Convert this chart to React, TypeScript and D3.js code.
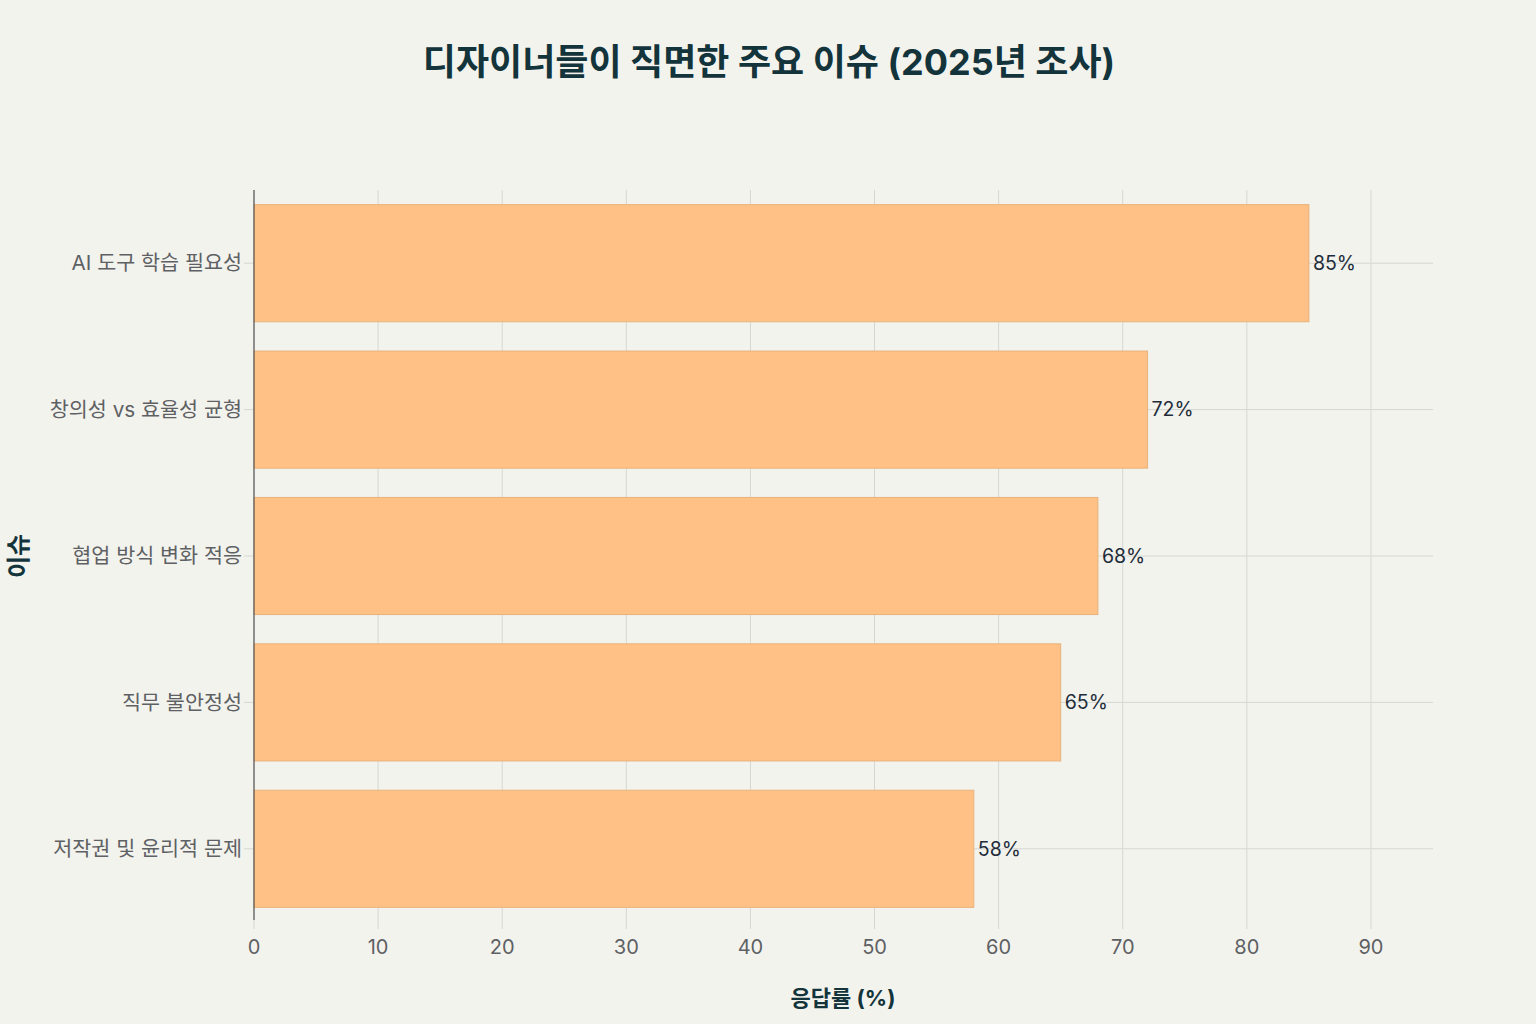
import * as d3 from "d3";
import React from 'react'

const categories = ['AI 도구 학습 필요성', '창의성 vs 효율성 균형', '협업 방식 변화 적응', '직무 불안정성', '저작권 및 윤리적 문제']
const values = [85, 72, 68, 65, 58]
const xTicks = [0, 10, 20, 30, 40, 50, 60, 70, 80, 90]

const W = 1536, H = 1024
const m = { l: 254, r: 103, t: 190, b: 102 }
const font = "Inter, 'Noto Sans CJK KR', 'Noto Sans', sans-serif"

const App: React.FC = () => {
  const x = d3.scaleLinear([0, 95], [m.l, W - m.r])
  const y = d3.scaleBand(categories, [m.t, H - m.b]).paddingInner(0.2).paddingOuter(0.1)
  const bottom = H - m.b

  return (
    <div>
      <style>{"body{margin:0;background:#f3f3ee}"}</style>
      <svg width={W} height={H} style={{ display: 'block', background: '#f3f3ee', fontFamily: font }}>
        <text x={769} y={75} textAnchor="middle" fontSize={36} fontWeight={700} fill="#13343b">디자이너들이 직면한 주요 이슈 (2025년 조사)</text>

        {xTicks.map(t => (
          <line key={'gx' + t} x1={x(t)} x2={x(t)} y1={m.t} y2={bottom + 7} stroke="#d6d6d2" strokeWidth={1} />
        ))}
        {categories.map(c => (
          <line key={'gy' + c} x1={m.l - 10} x2={W - m.r} y1={y(c)! + y.bandwidth() / 2} y2={y(c)! + y.bandwidth() / 2} stroke="#d6d6d2" strokeWidth={1} />
        ))}

        {categories.map((c, i) => (
          <rect key={c} x={x(0)} y={y(c)} width={x(values[i]) - x(0)} height={y.bandwidth()} fill="#ffc185" stroke="#e9b27c" strokeWidth={1} />
        ))}

        <line x1={m.l} x2={m.l} y1={m.t} y2={bottom - 2} stroke="#555" strokeWidth={1.2} />

        {categories.map((c, i) => (
          <text key={'v' + c} x={x(values[i]) + 4} y={y(c)! + y.bandwidth() / 2} dy="0.35em" fontSize={19.5} fill="#1f2d3a">{values[i]}%</text>
        ))}

        {categories.map(c => (
          <text key={'l' + c} x={m.l - 12} y={y(c)! + y.bandwidth() / 2} dy="0.35em" textAnchor="end" fontSize={20.7} fill="#5e6163">{c}</text>
        ))}

        {xTicks.map(t => (
          <text key={'t' + t} x={x(t)} y={954} textAnchor="middle" fontSize={20} fill="#5e6163">{t}</text>
        ))}

        <text x={843} y={1006} textAnchor="middle" fontSize={22} fontWeight={700} fill="#13343b">응답률 (%)</text>
        <text transform={`translate(27, ${(m.t + bottom) / 2}) rotate(-90)`} textAnchor="middle" fontSize={24} fontWeight={700} fill="#13343b">이슈</text>
      </svg>
    </div>
  )
}

export default App
